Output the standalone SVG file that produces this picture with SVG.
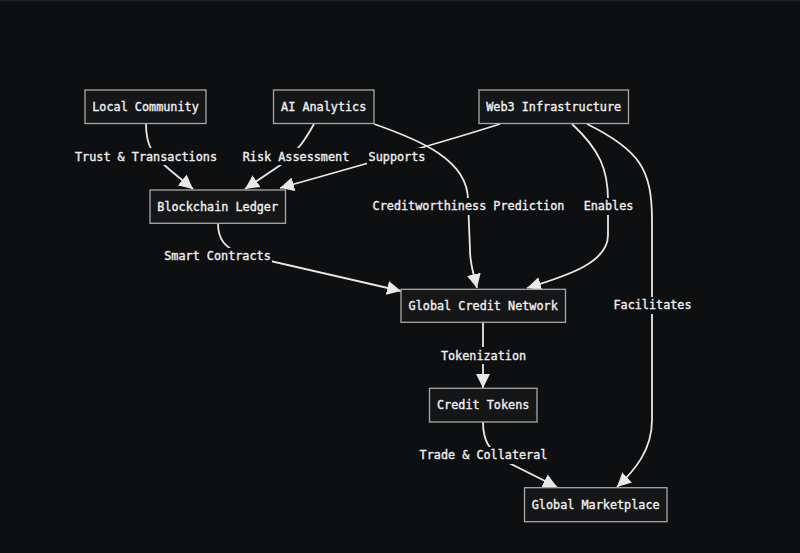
<svg xmlns="http://www.w3.org/2000/svg" width="800" height="553" viewBox="0 0 800 553">
<style>
.bg{fill:#0e0f11}
.node rect{fill:#151618;stroke:#a8a8a8;stroke-width:1.3}
text{font-family:"DejaVu Sans Mono","Liberation Mono",monospace;font-size:11.8px;fill:#f0f0f0;stroke:#f0f0f0;stroke-width:0.35;text-anchor:middle;dominant-baseline:central}
.edge{fill:none;stroke:#e8e8e8;stroke-width:1.8}
.lbl rect{fill:#0e0f11;stroke:none}
</style>
<defs>
<marker id="arr" markerUnits="userSpaceOnUse" markerWidth="14" markerHeight="14" viewBox="0 0 10 10" refX="10" refY="5" orient="auto">
<path d="M0,0 L10,5 L0,10 z" fill="#e8e8e8"/>
</marker>
</defs>
<rect class="bg" x="0" y="0" width="800" height="553"/>
<rect x="0" y="0" width="800" height="1.5" fill="#1e1f22"/>
<g id="connectors">
<path class="edge" marker-end="url(#arr)" d="M146,124 C146,145 152,155 170,170 L193,189"/>
<path class="edge" marker-end="url(#arr)" d="M314,124 C305,140 298,150 285,162 L245,189"/>
<path class="edge" marker-end="url(#arr)" d="M500,124 C450,140 380,160 280,188"/>
<path class="edge" marker-end="url(#arr)" d="M374,124 C420,140 468,160 468,200 L470,250 C470,265 474,275 477,288"/>
<path class="edge" marker-end="url(#arr)" d="M572,124 C600,150 608,170 608,200 L608,235 C608,262 570,275 527,288"/>
<path class="edge" marker-end="url(#arr)" d="M587,124 C640,150 652,170 652,220 L652,420 C652,450 635,470 617,487"/>
<path class="edge" marker-end="url(#arr)" d="M218,223 C218,240 225,247 240,254 L401,291"/>
<path class="edge" marker-end="url(#arr)" d="M483,322 L483,388"/>
<path class="edge" marker-end="url(#arr)" d="M483,422 C483,440 488,450 507,462 L557,487"/>
<g class="lbl">
<rect x="74" y="148" width="144" height="17"/><text x="146" y="156.5">Trust &amp; Transactions</text>
<rect x="242" y="148" width="108" height="17"/><text x="296" y="156.5">Risk Assessment</text>
<rect x="367" y="148" width="60" height="17"/><text x="397" y="156.5">Supports</text>
<rect x="371" y="198" width="195" height="17"/><text x="468.5" y="206">Creditworthiness Prediction</text>
<rect x="583" y="198" width="51" height="17"/><text x="608.5" y="206">Enables</text>
<rect x="163" y="248" width="109" height="17"/><text x="217.5" y="256">Smart Contracts</text>
<rect x="612" y="297" width="81" height="17"/><text x="652.5" y="305">Facilitates</text>
<rect x="440" y="347" width="87" height="17"/><text x="483.5" y="355.5">Tokenization</text>
<rect x="419" y="447" width="129" height="17"/><text x="483.5" y="455">Trade &amp; Collateral</text>
</g>
</g>
<g id="local-community" class="node"><rect x="85" y="90" width="121" height="33.5"/><text x="145.5" y="107">Local Community</text></g>
<g id="ai-analytics" class="node"><rect x="273.5" y="90" width="100.5" height="33.5"/><text x="323.7" y="107">AI Analytics</text></g>
<g id="web3-infrastructure" class="node"><rect x="479" y="90" width="149.5" height="33.5"/><text x="553.7" y="107">Web3 Infrastructure</text></g>
<g id="blockchain-ledger" class="node"><rect x="150" y="190" width="135.5" height="33.3"/><text x="217.7" y="206.5">Blockchain Ledger</text></g>
<g id="global-credit-network" class="node"><rect x="401" y="289.3" width="164.5" height="33"/><text x="483.2" y="305.5">Global Credit Network</text></g>
<g id="credit-tokens" class="node"><rect x="429.5" y="388.3" width="107.5" height="33.7"/><text x="483.2" y="405">Credit Tokens</text></g>
<g id="global-marketplace" class="node"><rect x="524.5" y="487.7" width="142.5" height="34"/><text x="595.7" y="504.5">Global Marketplace</text></g>
</svg>
